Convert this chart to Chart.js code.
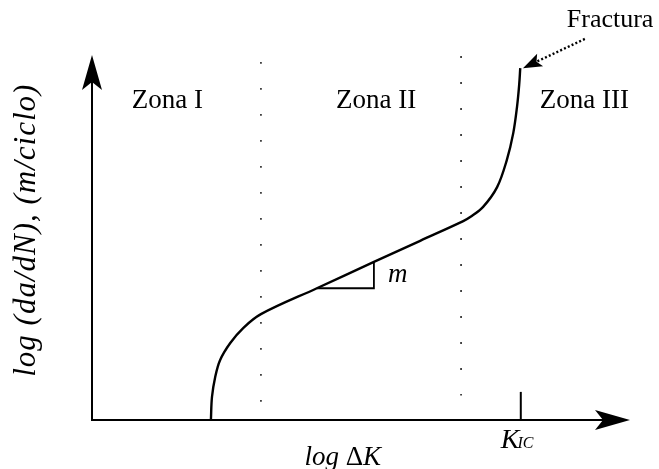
<!DOCTYPE html>
<html>
<head>
<meta charset="utf-8">
<script src="https://cdn.jsdelivr.net/npm/chart.js@4/dist/chart.umd.min.js"></script>
<style>
  html, body { margin: 0; padding: 0; background: #ffffff; }
  #wrap { width: 659px; height: 469px; }
</style>
</head>
<body>
<div id="wrap"><canvas id="c" width="659" height="469"></canvas></div>
<script>
// Fatigue crack growth curve, schematic: log ΔK (x) against log da/dN (y), arbitrary units 0..10
const curveX = [2.21, 2.23, 2.29, 2.38, 2.57, 2.81, 3.14, 4.18, 5.24, 6.10, 6.90, 7.03, 7.27, 7.53, 7.71, 7.83, 7.90, 7.94, 7.96];
const curveY = [0.00, 0.63, 1.18, 1.64, 2.11, 2.52, 2.90, 3.61, 4.33, 4.91, 5.45, 5.56, 5.84, 6.38, 7.12, 7.86, 8.58, 9.18, 9.64];

// slope triangle "m" on the Paris-law segment
const slopeX = [4.18, 5.24, 5.24];
const slopeY = [3.61, 3.61, 4.33];

// zone boundaries (dotted verticals): x, top, bottom
const boundaryX = [3.14, 6.86];
const boundaryTop = [9.81, 9.97];
const boundaryBottom = [0.50, 0.67];

// K_IC marker on the x axis
const kicX = 7.97;
const kicTickTop = 0.77;

const zoneLabels = ['Zona I', 'Zona II', 'Zona III'];
const zoneLabelX = [1.40, 5.28, 9.15];
const zoneLabelY = 8.55;

const fractureLabel = 'Fractura';
const fractureLabelPos = { x: 9.63, y: 10.77 };
const fractureArrowFrom = { x: 9.16, y: 10.44 };
const fractureArrowTo = { x: 8.01, y: 9.64 };

const xTitle = ['log ', 'Δ', 'K'];
const yTitle = 'log (da/dN), (m/ciclo)';

const SERIF = '"Liberation Serif", "Times New Roman", serif';
const INK = '#000000';

const toPts = (xs, ys) => xs.map((x, i) => ({ x, y: ys[i] }));

function arrowHead(ctx, tipX, tipY, angle, len, halfW, notch) {
  ctx.save();
  ctx.translate(tipX, tipY);
  ctx.rotate(angle);
  ctx.beginPath();
  ctx.moveTo(0, 0);
  ctx.lineTo(-len, -halfW);
  ctx.lineTo(-len + notch, 0);
  ctx.lineTo(-len, halfW);
  ctx.closePath();
  ctx.fillStyle = INK;
  ctx.fill();
  ctx.restore();
}

const decorations = {
  id: 'decorations',
  afterDatasetsDraw(chart) {
    const { ctx, scales: { x, y } } = chart;
    const px = v => x.getPixelForValue(v);
    const py = v => y.getPixelForValue(v);

    ctx.save();
    ctx.strokeStyle = INK;
    ctx.lineWidth = 2;
    ctx.lineCap = 'butt';

    // axes
    ctx.beginPath();
    ctx.moveTo(px(0), py(9.3));
    ctx.lineTo(px(0), py(0));
    ctx.lineTo(px(9.6), py(0));
    ctx.stroke();
    arrowHead(ctx, px(0), py(10), -Math.PI / 2, 35, 10, 8);
    arrowHead(ctx, px(10), py(0), 0, 35, 10, 8);

    // fracture pointer: dotted shaft with a solid head
    const fx0 = px(fractureArrowFrom.x), fy0 = py(fractureArrowFrom.y);
    const fx1 = px(fractureArrowTo.x), fy1 = py(fractureArrowTo.y);
    const ang = Math.atan2(fy1 - fy0, fx1 - fx0);
    const headLen = 19;
    ctx.setLineDash([2, 2.2]);
    ctx.lineWidth = 2.4;
    ctx.beginPath();
    ctx.moveTo(fx0, fy0);
    ctx.lineTo(fx1 - Math.cos(ang) * (headLen - 4), fy1 - Math.sin(ang) * (headLen - 4));
    ctx.stroke();
    ctx.setLineDash([]);
    arrowHead(ctx, fx1, fy1, ang, headLen, 7, 4);

    // texts
    ctx.fillStyle = INK;
    ctx.textBaseline = 'alphabetic';
    ctx.textAlign = 'center';
    ctx.font = '27px ' + SERIF;
    zoneLabels.forEach((t, i) => ctx.fillText(t, px(zoneLabelX[i]), py(zoneLabelY)));

    ctx.font = '26px ' + SERIF;
    ctx.fillText(fractureLabel, px(fractureLabelPos.x), py(fractureLabelPos.y));

    // slope label
    ctx.textAlign = 'left';
    ctx.font = 'italic 27px ' + SERIF;
    ctx.fillText('m', px(5.24) + 14, py(3.61) - 6);

    // K_IC
    ctx.font = 'italic 28px ' + SERIF;
    const kx = px(kicX) - 20;
    const ky = py(0) + 28;
    ctx.fillText('K', kx, ky);
    const kw = ctx.measureText('K').width;
    ctx.font = 'italic 16px ' + SERIF;
    ctx.fillText('IC', kx + kw - 2, ky);

    // x title: italic "log", upright delta, italic K
    const xFonts = ['italic 27px ' + SERIF, '27px ' + SERIF, 'italic 27px ' + SERIF];
    const widths = xTitle.map((t, i) => { ctx.font = xFonts[i]; return ctx.measureText(t).width; });
    let tx = px(4.66) - widths.reduce((a, b) => a + b, 0) / 2;
    const ty = py(0) + 45;
    xTitle.forEach((t, i) => { ctx.font = xFonts[i]; ctx.fillText(t, tx, ty); tx += widths[i]; });

    // y title, rotated
    ctx.save();
    ctx.translate(35, py(5.2));
    ctx.rotate(-Math.PI / 2);
    ctx.textAlign = 'center';
    ctx.font = 'italic 31px ' + SERIF;
    ctx.letterSpacing = '1px';
    ctx.fillText(yTitle, 0, 0);
    ctx.restore();

    ctx.restore();
  }
};

const boundaryDatasets = boundaryX.map((bx, i) => ({
  label: 'boundary' + (i + 1),
  data: [{ x: bx, y: boundaryTop[i] }, { x: bx, y: boundaryBottom[i] }],
  borderColor: '#3a3a3a',
  borderWidth: 1.8,
  borderDash: [1.8, 24.2],
  pointRadius: 0,
  tension: 0
}));

new Chart(document.getElementById('c'), {
  type: 'line',
  data: {
    datasets: [
      ...boundaryDatasets,
      {
        label: 'da/dN',
        data: toPts(curveX, curveY),
        borderColor: INK,
        borderWidth: 2.4,
        pointRadius: 0,
        tension: 0.35,
        borderCapStyle: 'butt'
      },
      {
        label: 'm',
        data: toPts(slopeX, slopeY),
        borderColor: INK,
        borderWidth: 1.8,
        pointRadius: 0,
        tension: 0
      },
      {
        label: 'KIC',
        data: [{ x: kicX, y: 0 }, { x: kicX, y: kicTickTop }],
        borderColor: INK,
        borderWidth: 2,
        pointRadius: 0,
        tension: 0
      }
    ]
  },
  options: {
    responsive: false,
    animation: false,
    devicePixelRatio: 1,
    layout: { padding: { left: 92, right: 29, top: 55, bottom: 49 } },
    plugins: { legend: { display: false }, tooltip: { enabled: false } },
    scales: {
      x: { type: 'linear', min: 0, max: 10, display: false },
      y: { type: 'linear', min: 0, max: 10, display: false }
    }
  },
  plugins: [decorations]
});
</script>
</body>
</html>
